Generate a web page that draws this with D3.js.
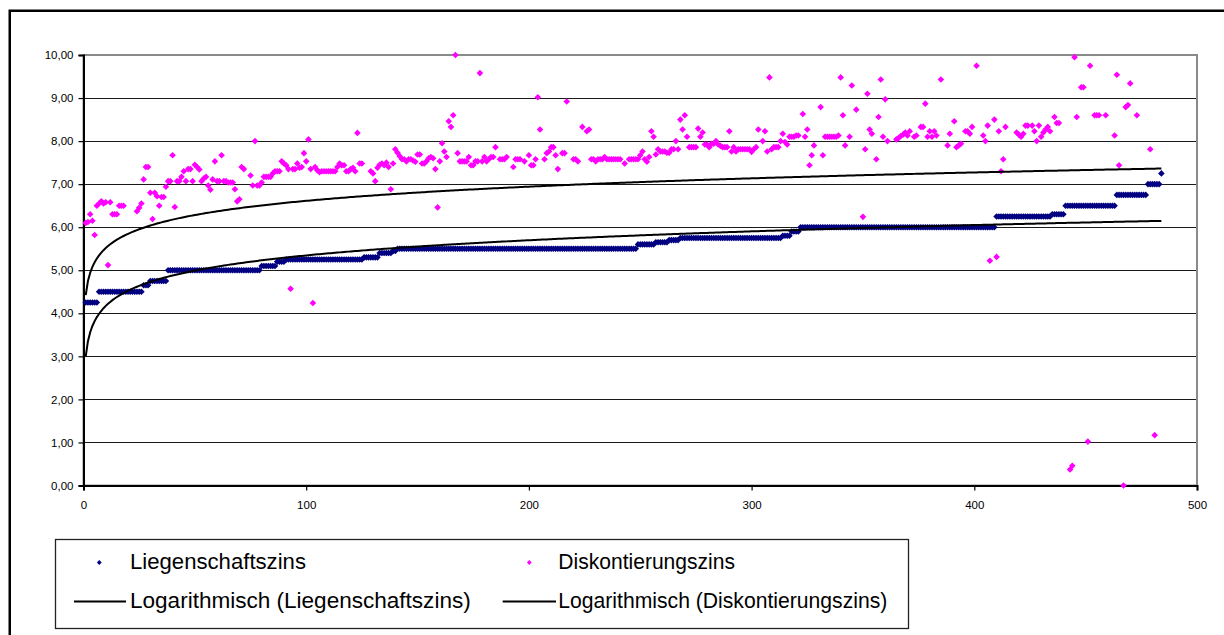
<!DOCTYPE html>
<html><head><meta charset="utf-8">
<script src="https://cdn.jsdelivr.net/npm/d3@7"></script>
<style>
body{margin:0;background:#fff}
svg{display:block}
text{font-family:"Liberation Sans",Arial,sans-serif}
</style>
</head><body>
<svg id="chart" width="1224" height="635"></svg>
<script>
// ---------- data ----------
const xTicks = [0, 100, 200, 300, 400, 500];
const yTicks = [0, 1, 2, 3, 4, 5, 6, 7, 8, 9, 10];
const seriesNames = ["Liegenschaftszins", "Diskontierungszins"];
const trendNames = ["Logarithmisch (Liegenschaftszins)", "Logarithmisch (Diskontierungszins)"];
// logarithmic trend lines y = a + b·ln(x), coefficients
const trendIntercept = [3.00, 4.42];
const trendSlope = [0.509, 0.476];

// observation 1..484 (x value = position in list)
const liegenschaftszins = [
 4.25,4.25,4.25,4.25,4.25,4.25,4.5,4.5,4.5,4.5,4.5,4.5,4.5,4.5,4.5,4.5,4.5,4.5,4.5,4.5,
 4.5,4.5,4.5,4.5,4.5,4.5,4.65,4.65,4.65,4.75,4.75,4.75,4.75,4.75,4.75,4.75,4.75,5,5,5,
 5,5,5,5,5,5,5,5,5,5,5,5,5,5,5,5,5,5,5,5,
 5,5,5,5,5,5,5,5,5,5,5,5,5,5,5,5,5,5,5,5.1,
 5.1,5.1,5.1,5.1,5.1,5.1,5.2,5.2,5.2,5.2,5.25,5.25,5.25,5.25,5.25,5.25,5.25,5.25,5.25,5.25,
 5.25,5.25,5.25,5.25,5.25,5.25,5.25,5.25,5.25,5.25,5.25,5.25,5.25,5.25,5.25,5.25,5.25,5.25,5.25,5.25,
 5.25,5.25,5.25,5.25,5.25,5.3,5.3,5.3,5.3,5.3,5.3,5.3,5.4,5.4,5.4,5.4,5.4,5.4,5.45,5.45,
 5.5,5.5,5.5,5.5,5.5,5.5,5.5,5.5,5.5,5.5,5.5,5.5,5.5,5.5,5.5,5.5,5.5,5.5,5.5,5.5,
 5.5,5.5,5.5,5.5,5.5,5.5,5.5,5.5,5.5,5.5,5.5,5.5,5.5,5.5,5.5,5.5,5.5,5.5,5.5,5.5,
 5.5,5.5,5.5,5.5,5.5,5.5,5.5,5.5,5.5,5.5,5.5,5.5,5.5,5.5,5.5,5.5,5.5,5.5,5.5,5.5,
 5.5,5.5,5.5,5.5,5.5,5.5,5.5,5.5,5.5,5.5,5.5,5.5,5.5,5.5,5.5,5.5,5.5,5.5,5.5,5.5,
 5.5,5.5,5.5,5.5,5.5,5.5,5.5,5.5,5.5,5.5,5.5,5.5,5.5,5.5,5.5,5.5,5.5,5.5,5.5,5.5,
 5.5,5.5,5.5,5.5,5.5,5.5,5.5,5.5,5.6,5.6,5.6,5.6,5.6,5.6,5.6,5.6,5.65,5.65,5.65,5.65,
 5.65,5.65,5.7,5.7,5.7,5.7,5.7,5.75,5.75,5.75,5.75,5.75,5.75,5.75,5.75,5.75,5.75,5.75,5.75,5.75,
 5.75,5.75,5.75,5.75,5.75,5.75,5.75,5.75,5.75,5.75,5.75,5.75,5.75,5.75,5.75,5.75,5.75,5.75,5.75,5.75,
 5.75,5.75,5.75,5.75,5.75,5.75,5.75,5.75,5.75,5.75,5.75,5.75,5.75,5.8,5.8,5.8,5.8,5.9,5.9,5.9,
 5.9,6,6,6,6,6,6,6,6,6,6,6,6,6,6,6,6,6,6,6,
 6,6,6,6,6,6,6,6,6,6,6,6,6,6,6,6,6,6,6,6,
 6,6,6,6,6,6,6,6,6,6,6,6,6,6,6,6,6,6,6,6,
 6,6,6,6,6,6,6,6,6,6,6,6,6,6,6,6,6,6,6,6,
 6,6,6,6,6,6,6,6,6,6.25,6.25,6.25,6.25,6.25,6.25,6.25,6.25,6.25,6.25,6.25,
 6.25,6.25,6.25,6.25,6.25,6.25,6.25,6.25,6.25,6.25,6.25,6.25,6.25,6.25,6.3,6.3,6.3,6.3,6.3,6.3,
 6.5,6.5,6.5,6.5,6.5,6.5,6.5,6.5,6.5,6.5,6.5,6.5,6.5,6.5,6.5,6.5,6.5,6.5,6.5,6.5,
 6.5,6.5,6.5,6.75,6.75,6.75,6.75,6.75,6.75,6.75,6.75,6.75,6.75,6.75,6.75,6.75,6.75,7,7,7,
 7,7,7,7.25
];

const diskontierungszins = [
 6.10,6.12,6.30,6.15,5.82,6.50,6.55,6.60,6.55,6.58,
 5.12,6.58,6.30,6.30,6.30,6.50,6.50,6.50,null,null,
 null,null,null,6.37,6.45,6.55,7.11,7.40,7.40,6.80,
 6.19,6.80,6.72,6.50,6.70,6.70,6.94,7.07,7.07,7.67,
 6.47,7.07,7.07,7.17,7.30,7.07,7.35,7.35,7.07,7.45,
 7.40,7.34,7.07,7.13,7.17,6.97,6.87,7.11,7.53,7.07,
 7.07,7.67,7.07,7.07,7.04,7.04,7.04,6.88,6.60,6.65,
 7.40,7.35,null,null,7.20,6.97,8.00,6.97,6.97,7.04,
 7.17,7.17,7.17,7.17,7.25,7.30,7.30,7.30,7.53,7.48,
 7.44,7.35,4.57,7.35,7.35,7.48,7.38,7.40,7.72,7.53,
 8.04,7.35,4.24,7.40,7.32,7.28,7.30,7.30,7.30,7.30,
 7.30,7.30,7.30,7.40,7.48,7.44,7.44,7.30,7.30,7.35,
 7.38,7.30,8.19,7.48,7.48,null,null,null,7.30,7.25,
 7.07,7.38,7.45,7.48,7.44,7.50,7.40,6.88,7.48,7.81,
 7.73,7.65,7.58,7.58,7.53,7.58,7.58,7.55,7.52,7.69,
 7.69,7.48,7.48,7.53,7.60,7.63,7.60,7.35,6.46,7.53,
 7.95,7.76,7.63,8.46,8.33,8.60,10.00,7.72,7.53,7.53,
 7.53,7.53,7.63,7.44,7.44,7.53,7.53,9.58,7.53,7.63,
 7.53,7.58,7.63,7.63,7.86,null,7.58,7.58,7.58,7.63,
 null,null,7.40,7.58,7.58,7.58,null,7.53,null,7.67,
 7.44,7.44,7.58,9.02,8.27,null,7.58,7.72,7.76,7.86,
 7.86,7.67,7.35,null,7.72,7.72,8.92,null,null,7.58,
 7.58,7.53,null,8.33,null,8.23,8.27,7.58,7.58,7.53,
 7.58,7.58,7.58,7.63,7.58,7.58,7.58,7.58,7.58,7.58,
 7.58,null,7.48,null,7.58,7.58,7.58,7.58,7.58,7.67,
 7.76,7.58,7.52,7.63,8.23,8.10,7.69,7.81,7.76,7.76,
 7.76,7.73,7.73,7.81,7.81,8.00,7.81,8.50,8.27,8.60,
 8.10,7.86,7.86,7.86,7.86,8.29,8.10,8.20,7.92,7.92,
 7.86,7.94,7.94,8.00,7.92,7.89,7.86,7.86,7.86,8.23,
 7.76,7.86,7.76,7.81,7.81,7.81,7.81,7.81,7.81,7.75,
 7.81,7.86,8.27,null,8.00,8.23,7.76,9.48,7.81,7.86,
 7.86,7.86,8.00,8.17,7.98,7.92,8.10,8.10,8.10,8.13,
 8.13,null,8.63,8.10,8.27,7.44,7.67,7.90,null,null,
 8.79,7.67,8.10,8.10,8.10,8.10,8.10,8.10,8.13,9.48,
 8.60,7.90,null,8.10,9.29,null,8.73,null,null,6.24,
 7.81,9.10,8.27,8.17,null,7.58,8.56,9.43,8.10,8.97,
 8.00,null,null,null,8.04,8.07,8.12,8.15,8.20,8.13,
 8.23,null,8.10,8.13,null,8.33,8.33,8.87,8.10,8.23,
 8.10,8.23,8.13,null,9.43,null,null,7.90,8.17,null,
 8.46,7.86,7.90,7.94,null,8.23,8.23,8.17,8.33,null,
 9.75,null,null,8.13,8.00,8.36,5.22,null,8.50,5.31,
 8.23,7.30,7.58,8.33,null,null,null,null,8.20,8.15,
 8.10,8.17,8.36,8.36,null,8.36,8.23,8.00,8.36,8.10,
 8.20,8.27,8.33,8.23,null,8.56,8.42,8.42,null,null,
 null,null,0.37,0.46,9.95,8.56,null,9.25,9.25,null,
 1.02,9.75,null,8.60,8.60,8.60,null,null,8.60,null,
 null,null,8.13,9.54,7.44,null,0.00,8.79,8.84,9.34,
 null,null,8.60,null,null,null,null,null,7.81,null,
 1.17,null,null,null
];

const colors = ["#000080", "#FF00FF"];

// ---------- helpers ----------
const locale = d3.formatLocale({decimal: ",", thousands: ".", grouping: [3], currency: ["", " €"]});
const fmt2 = locale.format(".2f");

function toPoints(arr) {
  return arr.map((v, i) => ({x: i + 1, y: v})).filter(d => d.y !== null);
}

const svg = d3.select("#chart");

// outer chart frame
svg.append("rect").attr("x", 9.75).attr("y", 10.75).attr("width", 1400).attr("height", 800)
  .attr("fill", "none").attr("stroke", "#000").attr("stroke-width", 2.5);

const x = d3.scaleLinear().domain([0, 500]).range([83.5, 1197]);
const y = d3.scaleLinear().domain([0, 10]).range([485.5, 55]);

// gridlines
svg.append("g").selectAll("line").data(yTicks.filter(t => t > 0 && t < 10)).join("line")
  .attr("x1", x(0)).attr("x2", x(500))
  .attr("y1", d => Math.round(y(d)) + 0.5).attr("y2", d => Math.round(y(d)) + 0.5)
  .attr("stroke", "#1a1a1a").attr("stroke-width", 1);

// plot area border (gray)
svg.append("rect").attr("x", x(0)).attr("y", y(10)).attr("width", x(500) - x(0)).attr("height", y(0) - y(10))
  .attr("fill", "none").attr("stroke", "#8a8a8a").attr("stroke-width", 2);

// axes
const yAxis = d3.axisLeft(y).tickValues(yTicks).tickFormat(fmt2).tickSizeOuter(0).tickSize(5).tickPadding(5);
const gy = svg.append("g").attr("transform", `translate(${x(0)},0)`).call(yAxis);
gy.select(".domain").attr("stroke", "#000").attr("stroke-width", 2);
gy.selectAll(".tick line").attr("stroke", "#000").attr("stroke-width", 1.2);
gy.selectAll(".tick text").attr("font-size", "11.5px").attr("fill", "#000")
  .attr("font-family", "'Liberation Sans', Arial, sans-serif");

const xAxis = d3.axisBottom(x).tickValues(xTicks).tickFormat(d3.format("d")).tickSizeOuter(0).tickSize(5).tickPadding(10);
const gx = svg.append("g").attr("transform", `translate(0,${y(0)})`).call(xAxis);
gx.select(".domain").attr("stroke", "#000").attr("stroke-width", 2);
gx.selectAll(".tick line").attr("stroke", "#000").attr("stroke-width", 1.2);
gx.selectAll(".tick text").attr("font-size", "11.5px").attr("fill", "#000")
  .attr("font-family", "'Liberation Sans', Arial, sans-serif");

// markers
const diamond = r => `M0,${-r}L${r},0L0,${r}L${-r},0Z`;
const datasets = [liegenschaftszins, diskontierungszins];
datasets.forEach((arr, k) => {
  svg.append("g").selectAll("path").data(toPoints(arr)).join("path")
    .attr("d", diamond(3.3))
    .attr("transform", d => `translate(${x(d.x)},${y(d.y)})`)
    .attr("fill", colors[k]);
});

// logarithmic trend lines
const line = d3.line().x(d => x(d.x)).y(d => y(d.y));
datasets.forEach((arr, k) => {
  const xs = d3.range(1, arr.length + 1);
  svg.append("path").datum(xs.map(v => ({x: v, y: trendIntercept[k] + trendSlope[k] * Math.log(v)})))
    .attr("d", line).attr("fill", "none").attr("stroke", "#000").attr("stroke-width", 2);
});

// legend
svg.append("rect").attr("x", 55.5).attr("y", 539.5).attr("width", 853).attr("height", 89)
  .attr("fill", "#fff").attr("stroke", "#222").attr("stroke-width", 1.3);
const legendCols = [
  {mx: 99.3, tx: 130, lx1: 74, lx2: 126, w1: 176, w2: 340.7},
  {mx: 529.3, tx: 558.3, lx1: 502.7, lx2: 556, w1: 176.7, w2: 329}
];
legendCols.forEach((c, k) => {
  svg.append("path").attr("d", diamond(2.4)).attr("transform", `translate(${c.mx},562.5)`).attr("fill", colors[k]);
  svg.append("text").attr("x", c.tx).attr("y", 569).attr("font-size", "22px")
    .attr("textLength", c.w1).attr("lengthAdjust", "spacingAndGlyphs").text(seriesNames[k]);
  svg.append("line").attr("x1", c.lx1).attr("x2", c.lx2).attr("y1", 601.5).attr("y2", 601.5)
    .attr("stroke", "#000").attr("stroke-width", 2);
  svg.append("text").attr("x", c.tx).attr("y", 607.5).attr("font-size", "22px")
    .attr("textLength", c.w2).attr("lengthAdjust", "spacingAndGlyphs").text(trendNames[k]);
});
</script>
</body></html>
